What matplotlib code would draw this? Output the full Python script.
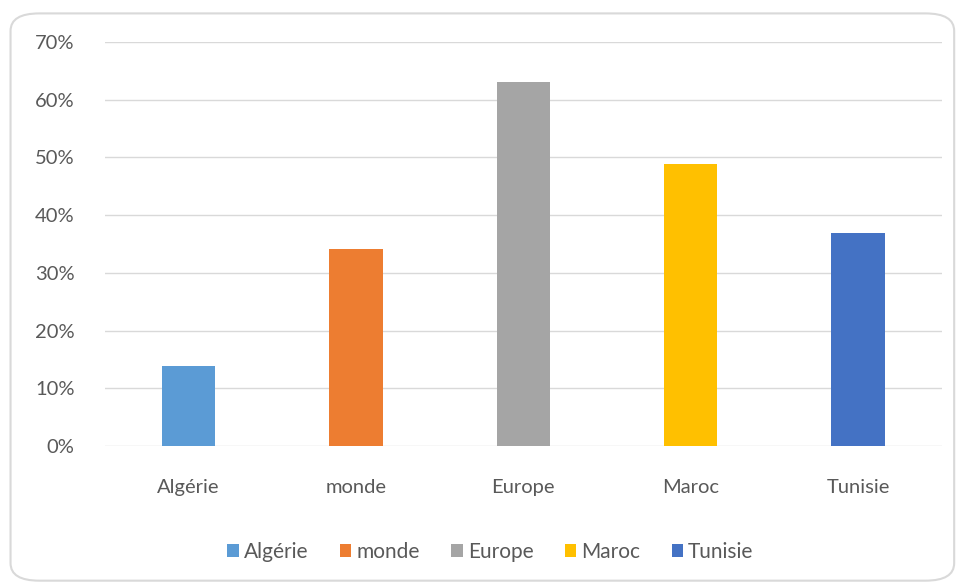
import matplotlib
matplotlib.use("Agg")
import matplotlib.pyplot as plt
from matplotlib.patches import FancyBboxPatch, Patch
from matplotlib.ticker import FuncFormatter

categories = ["Algérie", "monde", "Europe", "Maroc", "Tunisie"]
values = [13.8, 34.2, 63.1, 48.8, 36.9]
colors = ["#5B9BD5", "#ED7D31", "#A5A5A5", "#FFC000", "#4472C4"]
yticks = [0, 10, 20, 30, 40, 50, 60, 70]

plt.rcParams['font.family'] = ['Lato', 'DejaVu Sans']

fig = plt.figure(figsize=(9.58, 5.83), dpi=100)
fig.patch.set_facecolor("white")

border = FancyBboxPatch((0.011, 0.004), 0.985, 0.973,
                        boxstyle="round,pad=0,rounding_size=0.03",
                        transform=fig.transFigure, facecolor="white",
                        edgecolor="#D9D9D9", linewidth=1.5, zorder=-5)
fig.patches.append(border)

ax = fig.add_axes([0.1096, 0.235, 0.8734, 0.693])
ax.set_zorder(2)
ax.set_facecolor("none")
x = list(range(len(categories)))
ax.bar(x, values, width=0.32, color=colors, zorder=3)
ax.set_xlim(-0.5, len(categories) - 0.5)
ax.set_ylim(0, 70)
ax.set_yticks(yticks)
ax.yaxis.set_major_formatter(FuncFormatter(lambda v, p: f"{int(v)}%"))
ax.grid(axis="y", color="#D9D9D9", linewidth=1.0, zorder=0)
for s in ax.spines.values():
    s.set_visible(False)
ax.tick_params(axis="both", length=0, labelsize=14.5, colors="#595959")
ax.tick_params(axis="y", pad=22)
ax.set_xticks(x)
ax.set_xticklabels(categories)
ax.tick_params(axis="x", pad=24)

handles = [Patch(facecolor=c, edgecolor="none") for c in colors]
leg = fig.legend(handles, categories, loc="center", bbox_to_anchor=(0.512, 0.053),
                 ncol=5, frameon=False, fontsize=15, handlelength=0.55, handleheight=0.55,
                 handletextpad=0.25, columnspacing=1.5, labelcolor="#595959")
leg.set_zorder(3)

fig.savefig("out.png", dpi=100, facecolor="white")
